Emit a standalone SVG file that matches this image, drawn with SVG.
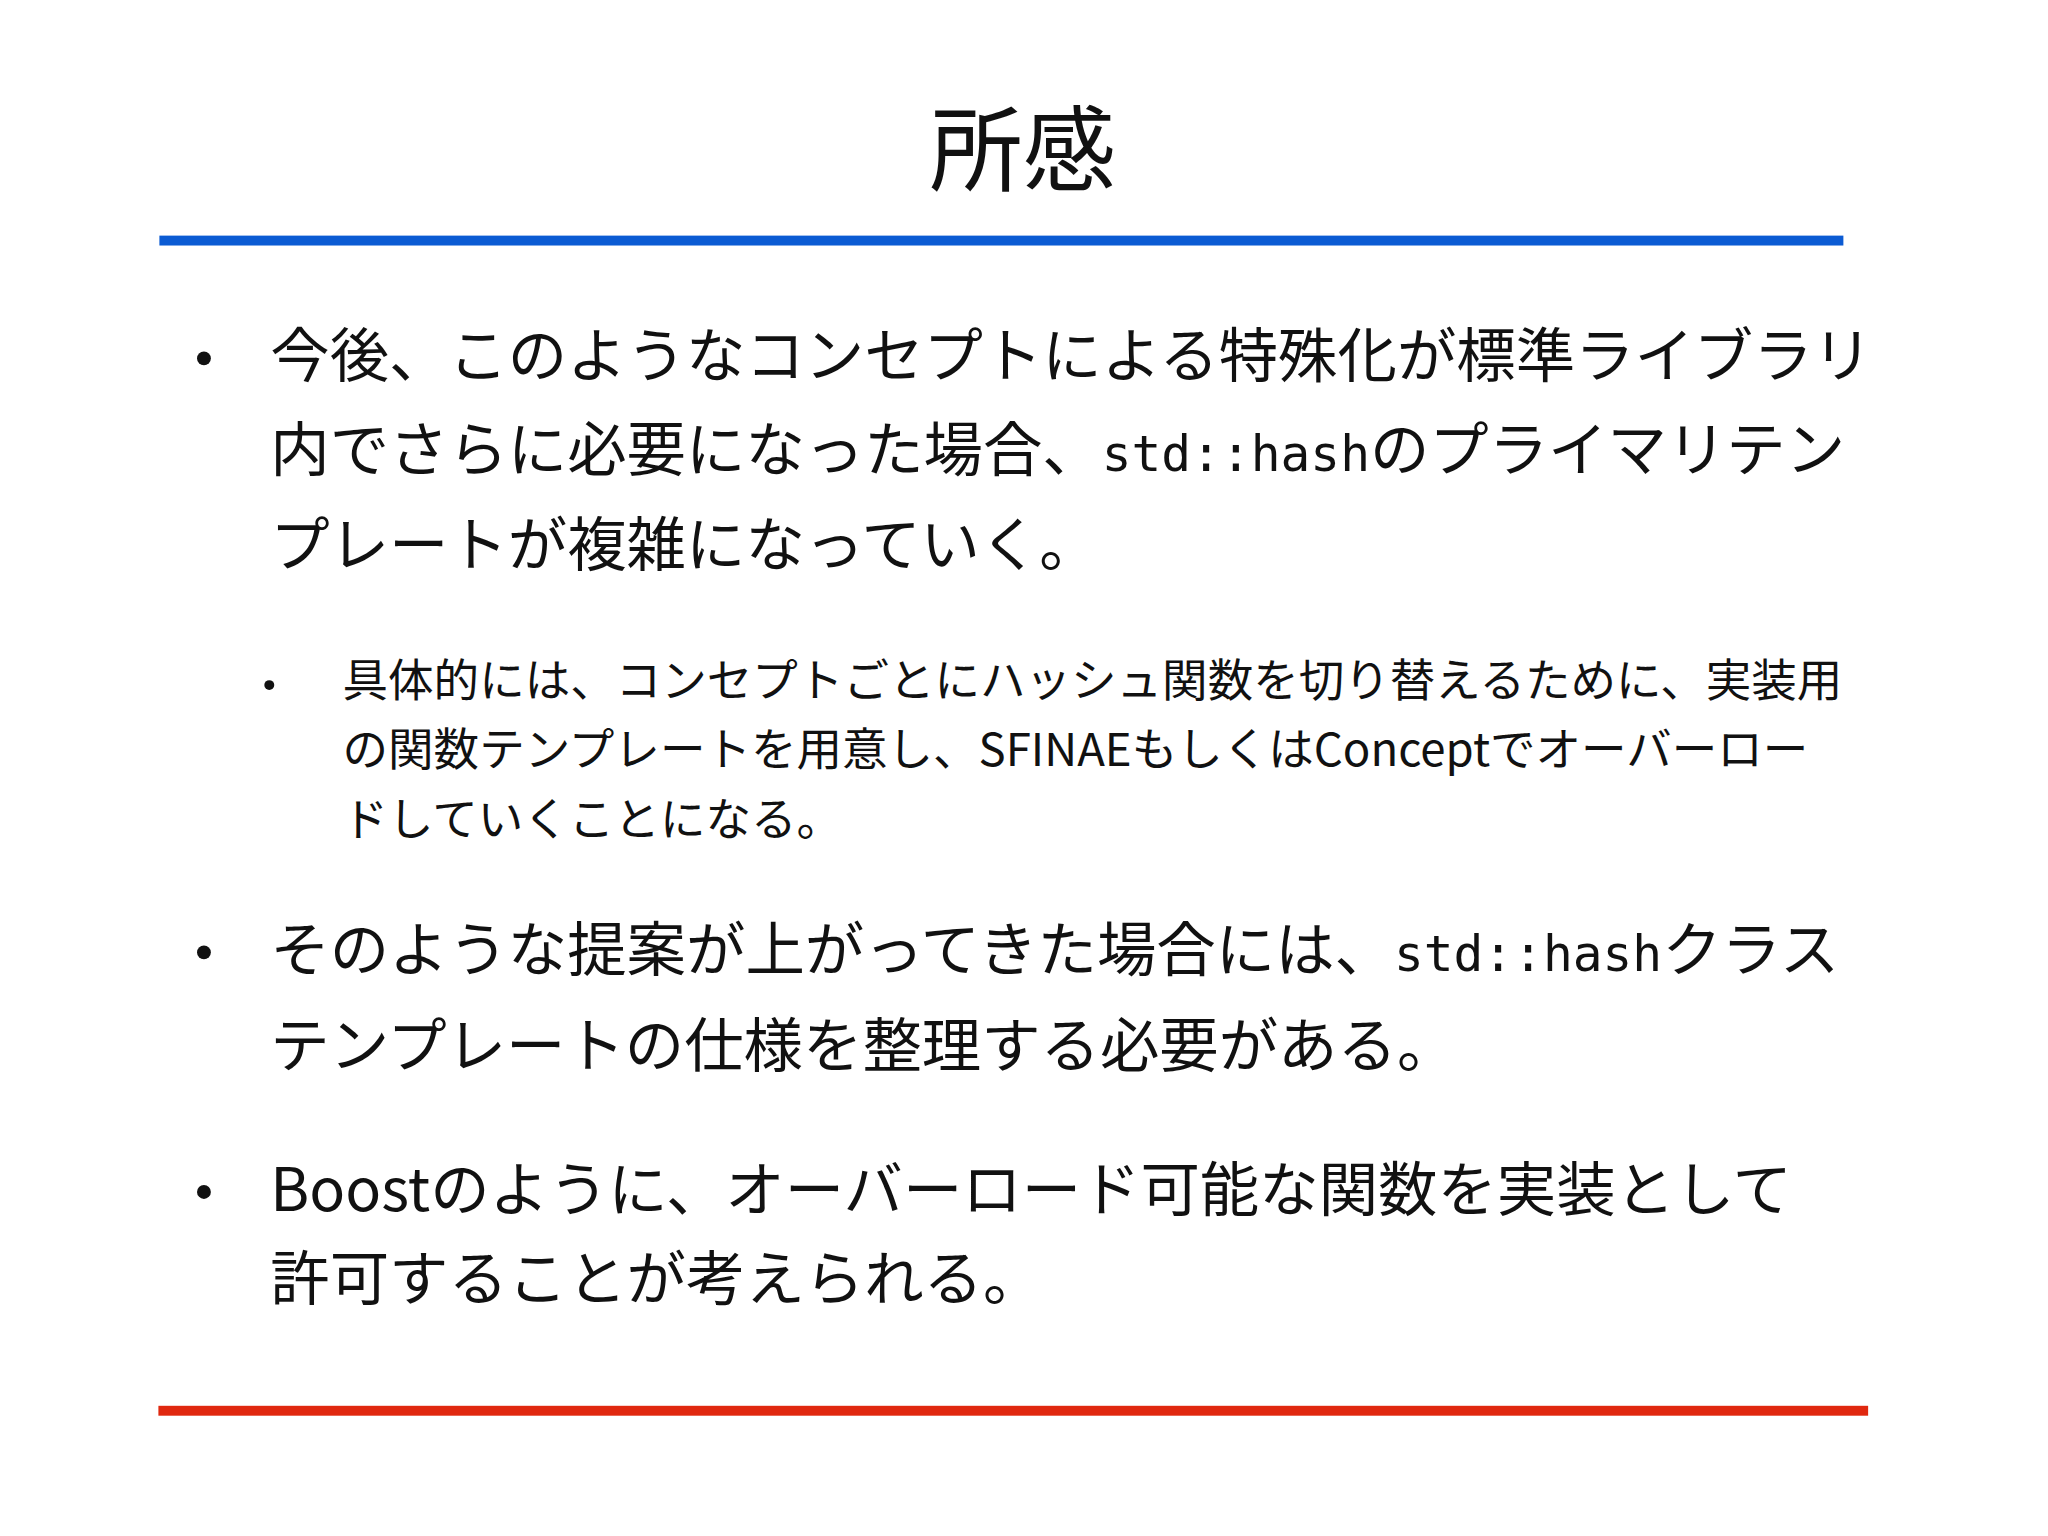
<svg xmlns="http://www.w3.org/2000/svg" width="2048" height="1536" viewBox="0 0 2048 1536">
<style>
text{font-family:"Noto Sans CJK JP","Noto Sans",sans-serif;fill:#111}
.b{font-size:60px}
.s{font-size:46px}
.m{font-family:"DejaVu Sans Mono","Liberation Mono",monospace;font-size:50px}
</style>
<rect width="2048" height="1536" fill="#fff"/>
<g transform="scale(0.99)">
<g id="title"><text x="1033" y="186" font-size="94" text-anchor="middle">所感</text>
<rect x="161" y="238" width="1701" height="10" fill="#0b5bd3"/></g>
<g id="b1">
<circle cx="206" cy="362" r="7" fill="#111"/>
<text class="b" x="273" y="381">今後、このようなコンセプトによる特殊化が標準ライブラリ</text>
<text class="b" x="273" y="476">内でさらに必要になった場合、<tspan class="m">std::hash</tspan>のプライマリテン</text>
<text class="b" x="273" y="572">プレートが複雑になっていく。</text>
</g>
<g id="sub">
<circle cx="272" cy="692" r="5" fill="#111"/>
<text class="s" x="346" y="704">具体的には、コンセプトごとにハッシュ関数を切り替えるために、実装用</text>
<text class="s" x="346" y="774">の関数テンプレートを用意し、SFINAEもしくはConceptでオーバーロー</text>
<text class="s" x="346" y="844">ドしていくことになる。</text>
</g>
<g id="b2">
<circle cx="206" cy="962" r="7" fill="#111"/>
<text class="b" x="273" y="981">そのような提案が上がってきた場合には、<tspan class="m">std::hash</tspan>クラス</text>
<text class="b" x="273" y="1078">テンプレートの仕様を整理する必要がある。</text>
</g>
<g id="b3">
<circle cx="206" cy="1204" r="7" fill="#111"/>
<text class="b" x="273" y="1223">Boostのように、オーバーロード可能な関数を実装として</text>
<text class="b" x="273" y="1313">許可することが考えられる。</text>
</g>
<g id="connectors"></g>
<rect x="160" y="1420" width="1727" height="10" fill="#e0280f"/>
</g>
</svg>
